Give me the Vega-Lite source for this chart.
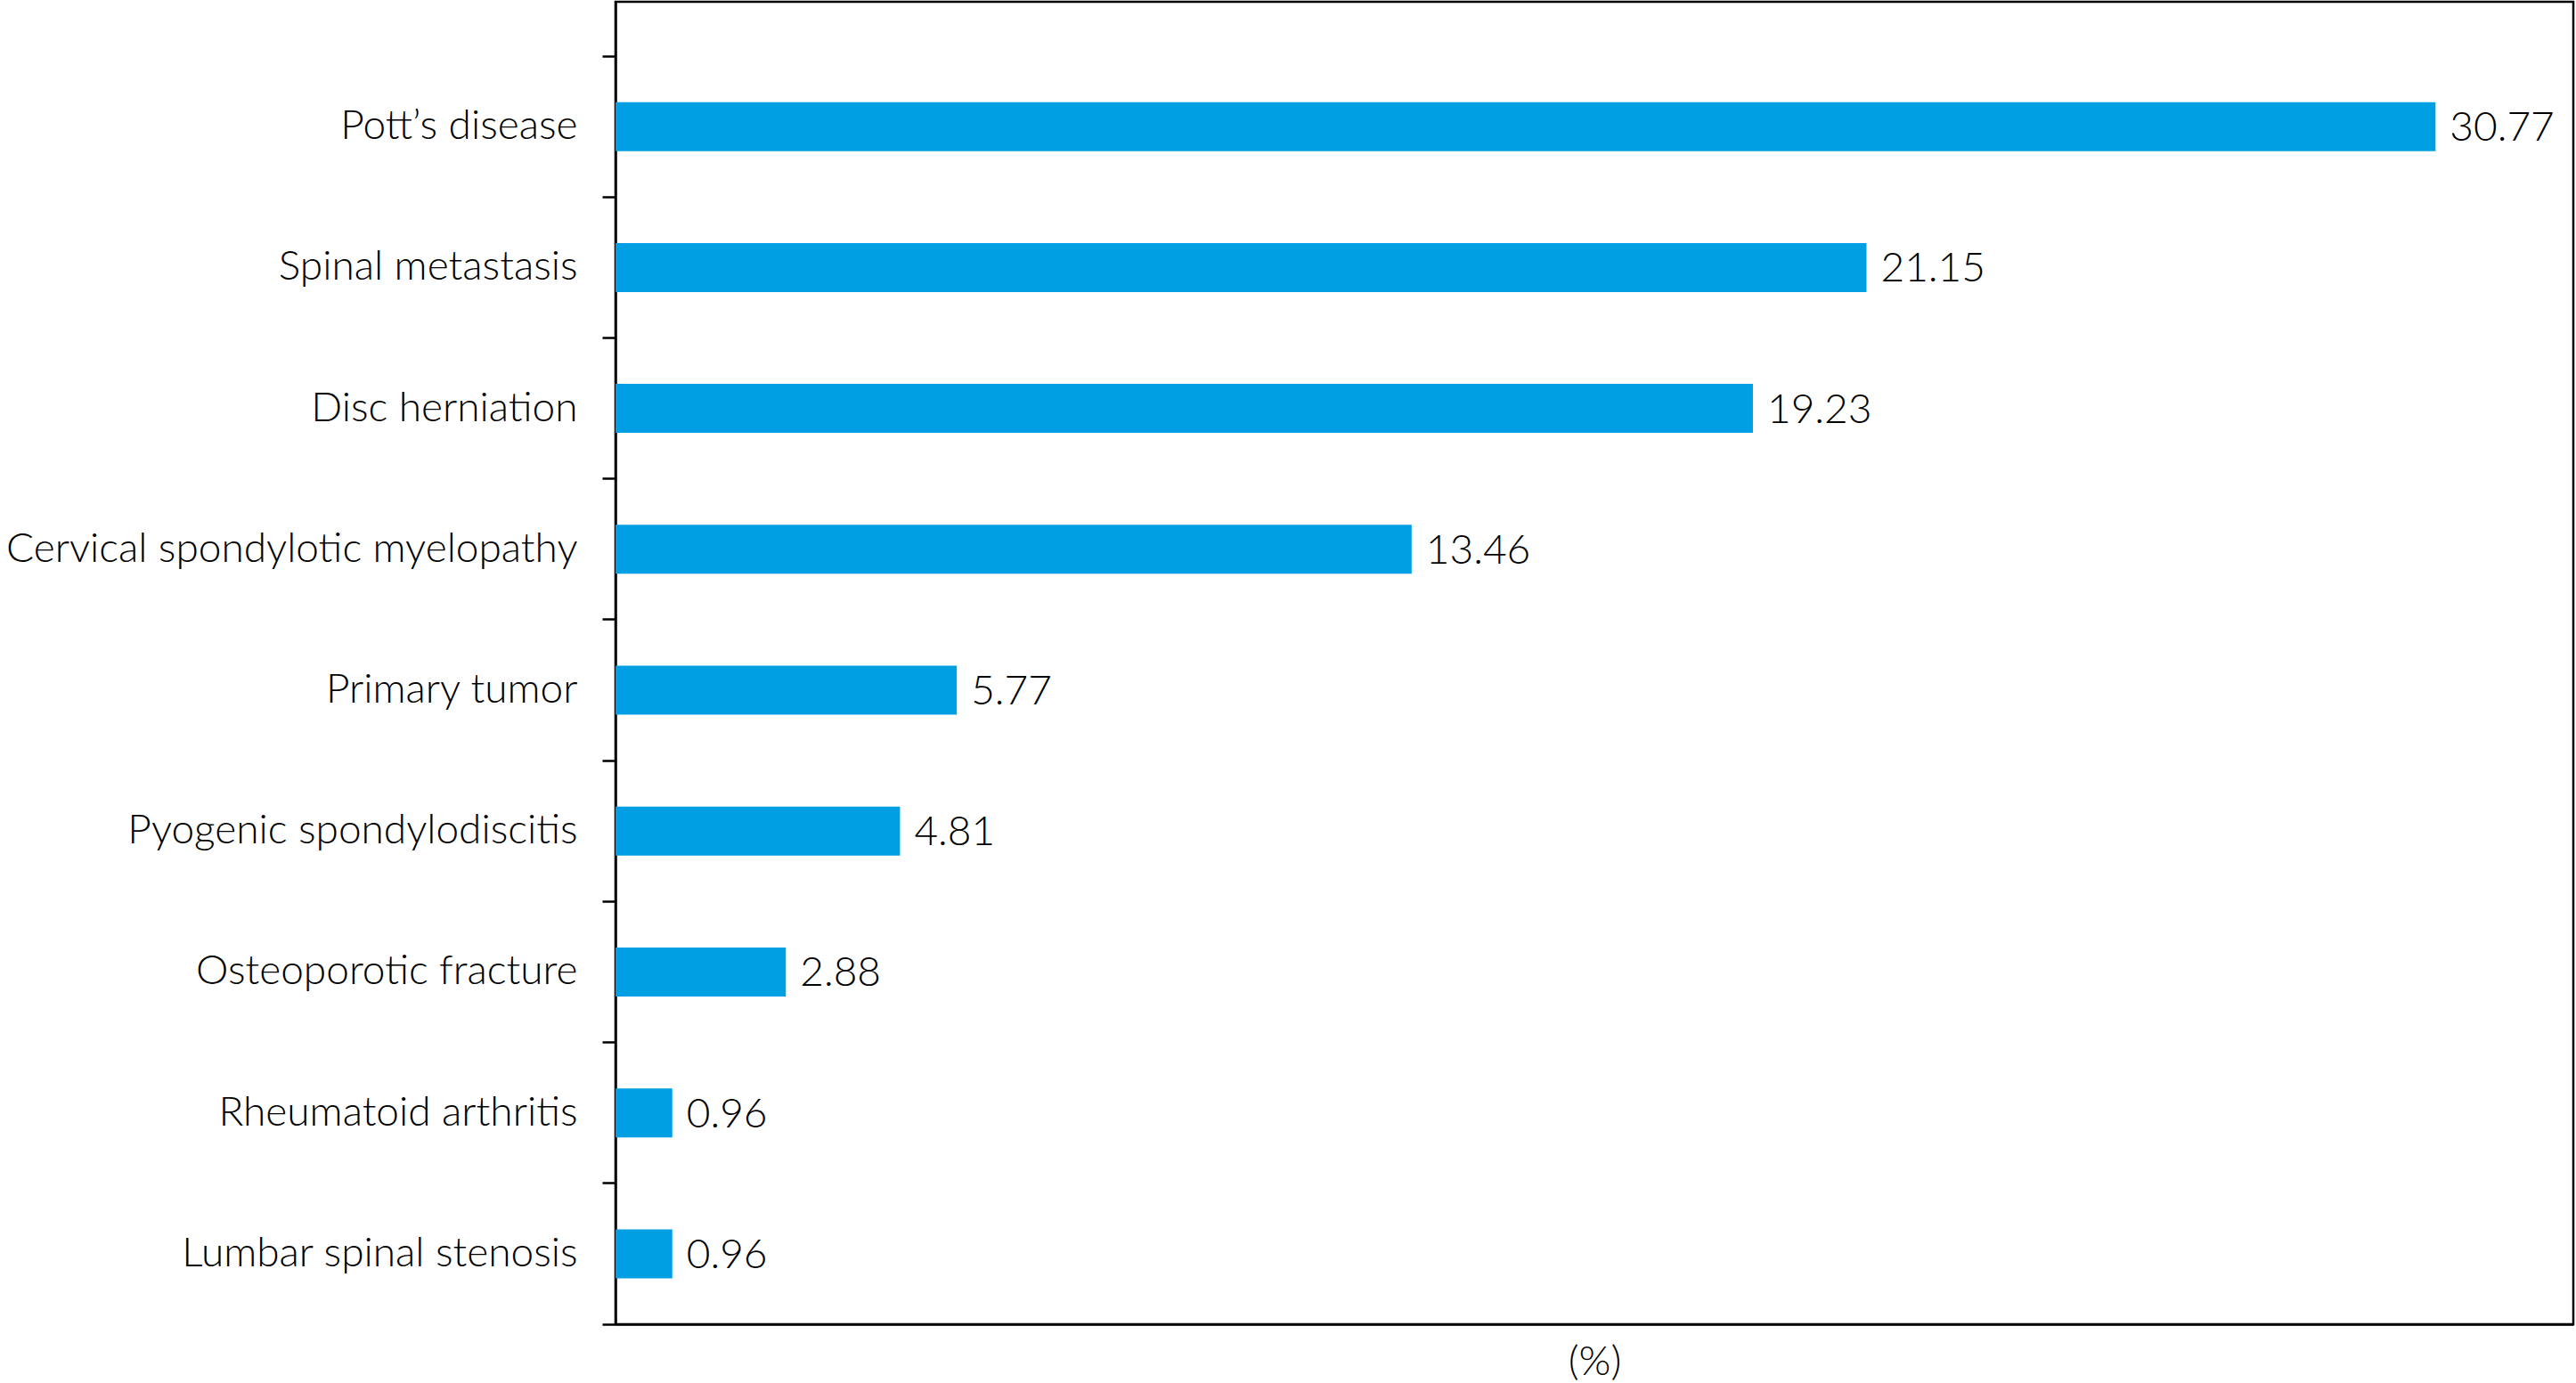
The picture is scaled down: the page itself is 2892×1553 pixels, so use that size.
{
  "$schema": "https://vega.github.io/schema/vega-lite/v6.json",
  "autosize": {"type": "none"},
  "width": 2198,
  "height": 1485,
  "padding": {"left": 691, "top": 2, "right": 3, "bottom": 66},
  "background": "white",
  "config": {
    "view": {"stroke": "black", "strokeWidth": 2.5},
    "font": "Lato"
  },
  "data": {
    "values": [
      {"cause": "Pott’s disease", "pct": 30.77, "label": "30.77"},
      {"cause": "Spinal metastasis", "pct": 21.15, "label": "21.15"},
      {"cause": "Disc herniation", "pct": 19.23, "label": "19.23"},
      {"cause": "Cervical spondylotic myelopathy", "pct": 13.46, "label": "13.46"},
      {"cause": "Primary tumor", "pct": 5.77, "label": "5.77"},
      {"cause": "Pyogenic spondylodiscitis", "pct": 4.81, "label": "4.81"},
      {"cause": "Osteoporotic fracture", "pct": 2.88, "label": "2.88"},
      {"cause": "Rheumatoid arthritis", "pct": 0.96, "label": "0.96"},
      {"cause": "Lumbar spinal stenosis", "pct": 0.96, "label": "0.96"}
    ]
  },
  "encoding": {
    "y": {
      "field": "cause",
      "type": "nominal",
      "sort": null,
      "scale": {"paddingInner": 0, "paddingOuter": 0.193, "align": 1},
      "axis": {
        "title": null,
        "bandPosition": 1,
        "tickExtra": true,
        "tickSize": 15,
        "tickWidth": 2.5,
        "tickColor": "black",
        "domainColor": "black",
        "domainWidth": 2.5,
        "labelPadding": 28,
        "labelFont": "Lato",
        "labelFontWeight": 300,
        "labelFontSize": 46,
        "labelColor": "black",
        "labelLimit": 0
      }
    },
    "x": {
      "field": "pct",
      "type": "quantitative",
      "scale": {"domain": [0, 33.1], "nice": false, "zero": true},
      "axis": {
        "title": "(%)",
        "titleFont": "Lato",
        "titleFontWeight": 300,
        "titleFontSize": 46,
        "titleColor": "black",
        "titlePadding": 20,
        "labels": false,
        "ticks": false,
        "grid": false,
        "domainColor": "black",
        "domainWidth": 2.5
      }
    }
  },
  "layer": [
    {"mark": {"type": "bar", "color": "#009FE3", "size": 55}},
    {
      "mark": {"type": "text", "align": "left", "baseline": "middle", "dx": 16, "dy": 2, "font": "Lato", "fontWeight": 300, "fontSize": 46, "color": "black"},
      "encoding": {"text": {"field": "label"}}
    }
  ]
}
